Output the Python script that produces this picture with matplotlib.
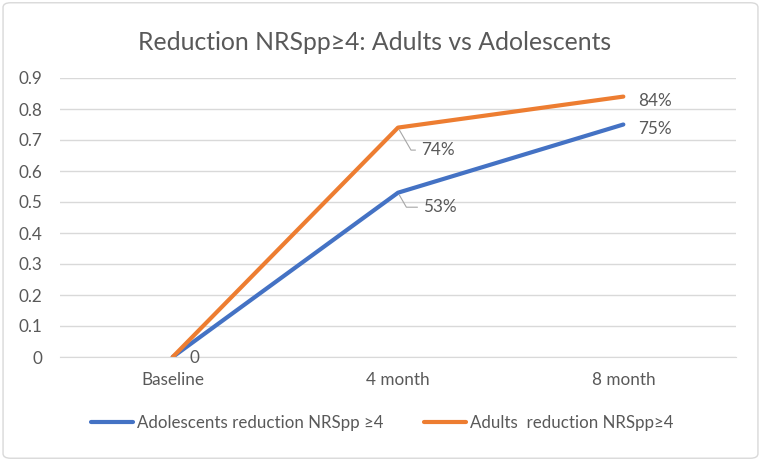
import matplotlib
matplotlib.use("Agg")
import matplotlib.pyplot as plt
from matplotlib.patches import FancyBboxPatch

plt.rcParams['font.family'] = ['Lato', 'DejaVu Sans']

categories = ["Baseline", "4 month", "8 month"]
adolescents = [0, 0.53, 0.75]
adults = [0, 0.74, 0.84]
adol_labels = ["", "53%", "75%"]
adult_labels = ["0", "74%", "84%"]
yticks = [0, 0.1, 0.2, 0.3, 0.4, 0.5, 0.6, 0.7, 0.8, 0.9]
ytick_labels = ["0", "0.1", "0.2", "0.3", "0.4", "0.5", "0.6", "0.7", "0.8", "0.9"]

gray = "#595959"
blue = "#4472C4"
orange = "#ED7D31"

fig = plt.figure(figsize=(7.61, 4.61), dpi=100)
border = FancyBboxPatch((0.004, 0.006), 0.992, 0.988, boxstyle="round,pad=0,rounding_size=0.01",
                        transform=fig.transFigure, fill=False, edgecolor="#D9D9D9", linewidth=1)
fig.patches.append(border)

ax = fig.add_axes([60/761, 104/461, 676/761, 279/461])
x = list(range(len(categories)))
ax.plot(x, adolescents, color=blue, linewidth=3, solid_capstyle="round",
        label="Adolescents reduction NRSpp \u22654")
ax.plot(x, adults, color=orange, linewidth=3, solid_capstyle="round",
        label="Adults  reduction NRSpp\u22654")

ax.set_xlim(-0.5, 2.5)
ax.set_ylim(0, 0.9)
ax.set_yticks(yticks)
ax.set_yticklabels(ytick_labels)
ax.set_xticks(x)
ax.set_xticklabels(categories)
ax.tick_params(axis='both', length=0, colors=gray, labelsize=12.3)
ax.tick_params(axis='y', pad=13)
ax.tick_params(axis='x', pad=11)
ax.grid(axis='y', color="#D9D9D9", linewidth=1)
ax.set_axisbelow(True)
for s in ["top", "right", "left"]:
    ax.spines[s].set_visible(False)
ax.spines["bottom"].set_color("#D9D9D9")

# data labels
def lab(xi, yi, text, dx, dy, leader=False):
    if leader:
        ax.annotate(text, xy=(xi, yi), xytext=(dx, dy), textcoords="offset pixels",
                    fontsize=12.3, color=gray, ha="left", va="center",
                    arrowprops=dict(arrowstyle="-", color="#A6A6A6", lw=0.8,
                                    connectionstyle="angle,angleA=0,angleB=-60,rad=0",
                                    shrinkA=2, shrinkB=2))
    else:
        ax.annotate(text, xy=(xi, yi), xytext=(dx, dy), textcoords="offset pixels",
                    fontsize=12.3, color=gray, ha="left", va="center")

lab(1, adults[1], adult_labels[1], 23, -22.5, leader=True)
lab(1, adolescents[1], adol_labels[1], 25, -14.5, leader=True)
lab(2, adults[2], adult_labels[2], 15, -4)
lab(2, adolescents[2], adol_labels[2], 15, -4)
lab(0, adults[0], adult_labels[0], 17, -1)

fig.text(375/761, 1 - 42/461, "Reduction NRSpp\u22654: Adults vs Adolescents", ha="center", va="center",
         fontsize=17.8, color=gray)

leg = fig.legend(loc="center", bbox_to_anchor=(382/761, 1 - 423/461), ncol=2, frameon=False,
                 fontsize=12.2, labelcolor=gray, handlelength=2.5, handletextpad=0.2,
                 columnspacing=2.4, borderaxespad=0)

fig.savefig("out.png", dpi=100)
